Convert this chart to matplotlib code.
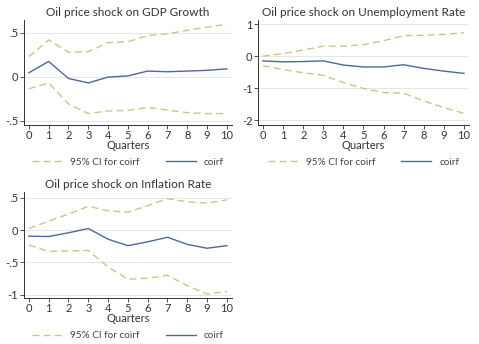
import matplotlib
matplotlib.use("Agg")
import matplotlib.pyplot as plt

plt.rcParams['font.family'] = ['Lato', 'DejaVu Sans']

quarters = list(range(11))

# GDP growth
gdp_coirf = [0.046, 0.175, -0.02, -0.07, -0.004, 0.01, 0.065, 0.057, 0.065, 0.073, 0.09]
gdp_upper = [0.229, 0.42, 0.28, 0.286, 0.39, 0.40, 0.47, 0.49, 0.53, 0.565, 0.60]
gdp_lower = [-0.137, -0.07, -0.31, -0.42, -0.39, -0.385, -0.35, -0.38, -0.41, -0.42, -0.42]

# Unemployment rate
unemp_coirf = [-0.15, -0.18, -0.17, -0.15, -0.28, -0.34, -0.34, -0.27, -0.385, -0.47, -0.54]
unemp_upper = [0.0, 0.08, 0.19, 0.31, 0.31, 0.36, 0.48, 0.64, 0.65, 0.68, 0.73]
unemp_lower = [-0.30, -0.42, -0.52, -0.60, -0.83, -1.01, -1.14, -1.16, -1.40, -1.61, -1.79]

# Inflation rate
infl_coirf = [-0.093, -0.098, -0.04, 0.026, -0.14, -0.24, -0.18, -0.11, -0.22, -0.28, -0.24]
infl_upper = [0.026, 0.14, 0.25, 0.37, 0.30, 0.28, 0.38, 0.49, 0.44, 0.42, 0.47]
infl_lower = [-0.23, -0.33, -0.32, -0.315, -0.57, -0.76, -0.745, -0.70, -0.86, -0.99, -0.95]

titles = ["Oil price shock on GDP Growth",
          "Oil price shock on Unemployment Rate",
          "Oil price shock on Inflation Rate"]
yticks = [[-0.5, 0, 0.5], [-2, -1, 0, 1], [-1, -0.5, 0, 0.5]]
yticklabels = [["-.5", "0", ".5"], ["-2", "-1", "0", "1"], ["-1", "-.5", "0", ".5"]]
ylims = [(-0.549, 0.648), (-2.15, 1.13), (-1.05, 0.593)]

ci_color = "#b9cd8b"
line_color = "#4f679e"

fig = plt.figure(figsize=(4.79, 3.44), dpi=100)
positions = [
    [0.050, 0.637, 0.434, 0.305],
    [0.5386, 0.637, 0.4405, 0.305],
    [0.050, 0.134, 0.434, 0.308],
]
series = [
    (gdp_coirf, gdp_upper, gdp_lower),
    (unemp_coirf, unemp_upper, unemp_lower),
    (infl_coirf, infl_upper, infl_lower),
]

for i in range(3):
    ax = fig.add_axes(positions[i])
    coirf, upper, lower = series[i]
    ax.plot(quarters, upper, color=ci_color, lw=1, ls=(0, (5, 3)), label="95% CI for coirf")
    ax.plot(quarters, lower, color=ci_color, lw=1, ls=(0, (5, 3)))
    ax.plot(quarters, coirf, color=line_color, lw=1, label="coirf")
    ax.set_xlim(-0.25, 10.25)
    ax.set_ylim(*ylims[i])
    ax.set_xticks(quarters)
    ax.set_yticks(yticks[i])
    ax.set_yticklabels(yticklabels[i])
    ax.tick_params(labelsize=8, length=3, width=0.6, pad=1, colors="#333333")
    ax.grid(axis="y", color="#e2e2e2", lw=0.6)
    ax.set_axisbelow(True)
    for s in ["top", "right"]:
        ax.spines[s].set_visible(False)
    for s in ["left", "bottom"]:
        ax.spines[s].set_linewidth(0.7)
        ax.spines[s].set_color("#333333")
    ax.set_xlabel("Quarters", fontsize=8, labelpad=-1, color="#333333")
    ax.set_title(titles[i], fontsize=8.5, color="#333333", pad=3)
    ax.legend(loc="center", bbox_to_anchor=(0.5, -0.355), ncol=2, frameon=False,
              fontsize=7.2, handlelength=3.0, handletextpad=0.8, columnspacing=2.6,
              borderpad=0, labelcolor="#444444")

fig.savefig("out.png", dpi=100)
